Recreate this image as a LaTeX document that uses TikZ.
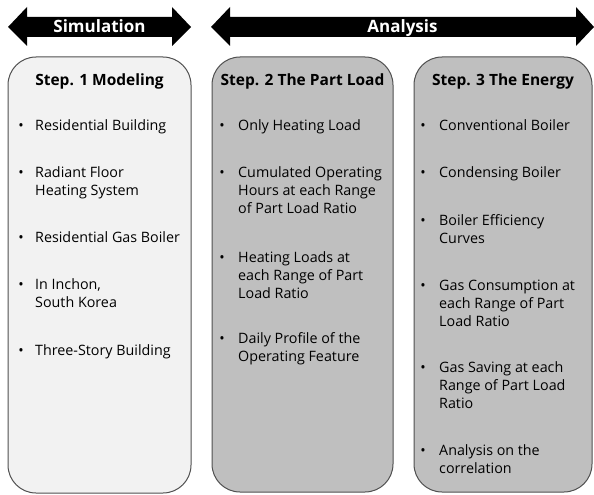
\documentclass[tikz,border=0pt]{standalone}
\usepackage{fontspec}
\setmainfont{Open Sans}
\definecolor{BoxLight}{RGB}{242,242,242}
\definecolor{BoxGray}{RGB}{191,191,191}
\definecolor{BoxEdge}{RGB}{80,80,80}
\usetikzlibrary{positioning}
\tikzset{
  stepbox/.style={draw=BoxEdge,line width=1pt,rounded corners=28pt},
  steptitle/.style={anchor=base,inner sep=0pt,font=\fontsize{15.5}{18}\selectfont\bfseries},
  phase/.style={anchor=base,inner sep=0pt,text=white,font=\fontsize{17}{20}\selectfont\bfseries},
  bul/.style={anchor=base,inner sep=0pt,font=\fontsize{14.3}{18}\selectfont},
  % base of a wrapped item is its last line
  itm/.style={anchor=base west,inner sep=0pt,align=left,font=\fontsize{14.3}{18}\selectfont}
}

\begin{document}
\begin{tikzpicture}[x=1pt,y=-1pt]
\useasboundingbox (0,0) rectangle (594,495);
% Simulation arrow
\fill (8,27) -- (27,7) -- (27,17) -- (172,17) -- (172,7) -- (191,27)
  -- (172,46) -- (172,37) -- (27,37) -- (27,46) -- cycle;
\node[phase] (sim) at (99.5,33) {Simulation};
% Analysis arrow
\fill (211,27) -- (230,7) -- (230,17) -- (576,17) -- (576,7) -- (594,27)
  -- (576,46) -- (576,37) -- (230,37) -- (230,46) -- cycle;
\node[phase] (ana) at (402.5,33) {Analysis};

% Step 1
\draw[stepbox,fill=BoxLight] (8,57) rectangle (191,493);
\node[steptitle] (t1) at (99.5,85) {Step. 1 Modeling};
\node[bul] (b11) at (21,130) {•};
\node[itm] (i11) at (35,130) {Residential Building};
\node[bul] (b12) at (21,177) {•};
\node[itm] (i12) at (35,195) {Radiant Floor\\Heating System};
\node[bul] (b13) at (21,242) {•};
\node[itm] (i13) at (35,242) {Residential Gas Boiler};
\node[bul] (b14) at (21,289) {•};
\node[itm] (i14) at (35,307) {In Inchon,\\South Korea};
\node[bul] (b15) at (21,355) {•};
\node[itm] (i15) at (35,355) {Three-Story Building};

% Step 2
\draw[stepbox,fill=BoxGray] (212,57) rectangle (393,492);
\node[steptitle] (t2) at (302.5,85) {Step. 2 The Part Load};
\node[bul] (b21) at (222,130) {•};
\node[itm] (i21) at (238,130) {Only Heating Load};
\node[bul] (b22) at (222,177) {•};
\node[itm] (i22) at (238,213) {Cumulated Operating\\Hours at each Range\\of Part Load Ratio};
\node[bul] (b23) at (222,262) {•};
\node[itm] (i23) at (238,298) {Heating Loads at\\each Range of Part\\Load Ratio};
\node[bul] (b24) at (222,343) {•};
\node[itm] (i24) at (238,361) {Daily Profile of the\\Operating Feature};

% Step 3
\draw[stepbox,fill=BoxGray] (414,57) rectangle (592,492);
\node[steptitle] (t3) at (503,85) {Step. 3 The Energy};
\node[bul] (b31) at (423,130) {•};
\node[itm] (i31) at (439,130) {Conventional Boiler};
\node[bul] (b32) at (423,177) {•};
\node[itm] (i32) at (439,177) {Condensing Boiler};
\node[bul] (b33) at (423,225) {•};
\node[itm] (i33) at (439,243) {Boiler Efficiency\\Curves};
\node[bul] (b34) at (423,290) {•};
\node[itm] (i34) at (439,326) {Gas Consumption at\\each Range of Part\\Load Ratio};
\node[bul] (b35) at (423,372) {•};
\node[itm] (i35) at (439,408) {Gas Saving at each\\Range of Part Load\\Ratio};
\node[bul] (b36) at (423,455) {•};
\node[itm] (i36) at (439,473) {Analysis on the\\correlation};
\end{tikzpicture}
\end{document}
